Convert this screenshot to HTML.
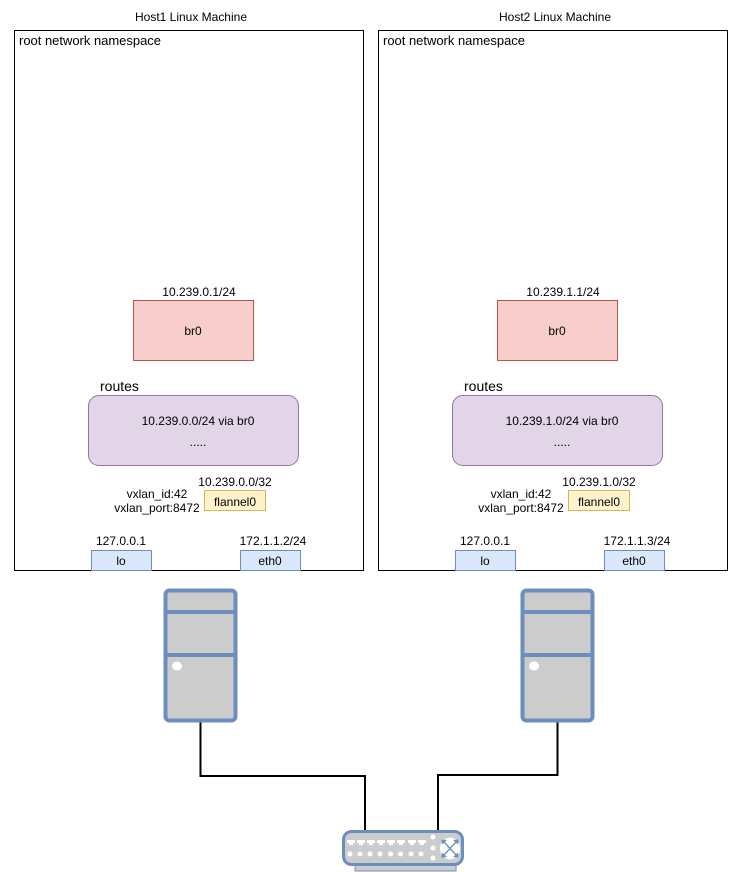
<!DOCTYPE html>
<html><head><meta charset="utf-8"><style>html,body{margin:0;padding:0;background:#fff}svg{display:block}text{font-family:"Liberation Sans",sans-serif;fill:#000}</style></head>
<body>
<svg width="729" height="872" viewBox="0 0 729 872" xmlns="http://www.w3.org/2000/svg">
<defs>
<g id="server">
<rect x="165.500" y="590.500" width="70" height="130" rx="4" fill="#ccc" stroke="#6c8ebf" stroke-width="4"/>
<path d="M165 612H236M165 655H236" stroke="#6c8ebf" stroke-width="4" fill="none"/>
<ellipse cx="177" cy="666" rx="5" ry="4.500" fill="#fff"/>
</g>
</defs>
<g id="h1">
<text x="191" y="21" font-size="12" text-anchor="middle" textLength="112">Host1 Linux Machine</text>
<rect x="14.500" y="30.500" width="349" height="540" fill="#fff" stroke="#000"/>
<text x="19" y="45" font-size="13" textLength="142">root network namespace</text>
<text x="199" y="296" font-size="12" text-anchor="middle">10.239.0.1/24</text>
<rect x="133.500" y="300.500" width="120" height="60" fill="#f8cecc" stroke="#b85450"/>
<text x="193" y="335" font-size="12" text-anchor="middle">br0</text>
<text x="100" y="391" font-size="14">routes</text>
<rect x="88.500" y="395.500" width="210" height="70" rx="10.500" fill="#e1d5e7" stroke="#9673a6"/>
<text x="198" y="425" font-size="12" text-anchor="middle">10.239.0.0/24 via br0</text>
<text x="198" y="446" font-size="12" text-anchor="middle">.....</text>
<text x="235" y="486" font-size="12" text-anchor="middle">10.239.0.0/32</text>
<text x="157" y="498" font-size="12" text-anchor="middle">vxlan_id:42</text>
<text x="157" y="512" font-size="12" text-anchor="middle">vxlan_port:8472</text>
<rect x="204.500" y="490.500" width="61" height="20" fill="#fff2cc" stroke="#d6b656"/>
<text x="235" y="506" font-size="12" text-anchor="middle">flannel0</text>
<text x="121" y="545" font-size="12" text-anchor="middle">127.0.0.1</text>
<rect x="91.500" y="550.500" width="60" height="20" fill="#dae8fc" stroke="#6c8ebf"/>
<text x="121" y="565" font-size="12" text-anchor="middle">lo</text>
<text x="273" y="545" font-size="12" text-anchor="middle">172.1.1.2/24</text>
<rect x="240.500" y="550.500" width="60" height="20" fill="#dae8fc" stroke="#6c8ebf"/>
<text x="270" y="565" font-size="12" text-anchor="middle">eth0</text>
</g>
<g transform="translate(364 0)">
<text x="191" y="21" font-size="12" text-anchor="middle" textLength="112">Host2 Linux Machine</text>
<rect x="14.500" y="30.500" width="349" height="540" fill="#fff" stroke="#000"/>
<text x="19" y="45" font-size="13" textLength="142">root network namespace</text>
<text x="199" y="296" font-size="12" text-anchor="middle">10.239.1.1/24</text>
<rect x="133.500" y="300.500" width="120" height="60" fill="#f8cecc" stroke="#b85450"/>
<text x="193" y="335" font-size="12" text-anchor="middle">br0</text>
<text x="100" y="391" font-size="14">routes</text>
<rect x="88.500" y="395.500" width="210" height="70" rx="10.500" fill="#e1d5e7" stroke="#9673a6"/>
<text x="198" y="425" font-size="12" text-anchor="middle">10.239.1.0/24 via br0</text>
<text x="198" y="446" font-size="12" text-anchor="middle">.....</text>
<text x="235" y="486" font-size="12" text-anchor="middle">10.239.1.0/32</text>
<text x="157" y="498" font-size="12" text-anchor="middle">vxlan_id:42</text>
<text x="157" y="512" font-size="12" text-anchor="middle">vxlan_port:8472</text>
<rect x="204.500" y="490.500" width="61" height="20" fill="#fff2cc" stroke="#d6b656"/>
<text x="235" y="506" font-size="12" text-anchor="middle">flannel0</text>
<text x="121" y="545" font-size="12" text-anchor="middle">127.0.0.1</text>
<rect x="91.500" y="550.500" width="60" height="20" fill="#dae8fc" stroke="#6c8ebf"/>
<text x="121" y="565" font-size="12" text-anchor="middle">lo</text>
<text x="273" y="545" font-size="12" text-anchor="middle">172.1.1.3/24</text>
<rect x="240.500" y="550.500" width="60" height="20" fill="#dae8fc" stroke="#6c8ebf"/>
<text x="270" y="565" font-size="12" text-anchor="middle">eth0</text>
</g>
<path d="M200.500 721V776H365V830M557.500 721V775H438V830" fill="none" stroke="#000" stroke-width="2"/>
<use href="#server"/>
<use href="#server" x="357"/>
<rect x="355" y="865" width="101" height="6" fill="#ccc" stroke="#6c8ebf" stroke-width="1"/>
<rect x="343.500" y="831.500" width="119" height="33" rx="8" fill="#ccc" stroke="#6c8ebf" stroke-width="3"/>
<g fill="#fff">
<path d="M347 840h8v3h-2v2h-4v-2h-2zM357 840h8v3h-2v2h-4v-2h-2zM367 840h8v3h-2v2h-4v-2h-2zM377 840h8v3h-2v2h-4v-2h-2zM387 840h8v3h-2v2h-4v-2h-2zM397 840h8v3h-2v2h-4v-2h-2zM408 840h8v3h-2v2h-4v-2h-2zM418 840h8v3h-2v2h-4v-2h-2z"/>
<circle cx="350" cy="854" r="2.500"/><circle cx="360" cy="854" r="2.500"/><circle cx="370" cy="854" r="2.500"/><circle cx="380" cy="854" r="2.500"/><circle cx="390.500" cy="854" r="2.500"/><circle cx="400.500" cy="854" r="2.500"/><circle cx="411" cy="854" r="2.500"/><circle cx="421" cy="854" r="2.500"/>
<circle cx="433" cy="837" r="2.500"/><circle cx="433" cy="848" r="2.500"/><circle cx="433" cy="858" r="2.500"/>
<ellipse cx="450" cy="848.500" rx="10" ry="11"/>
</g>
<path d="M444 842L456 855M456 842L444 855" stroke="#6c8ebf" stroke-width="1.300" fill="none"/>
<path d="M441.500 839.500l5.500 0.500-5 4.500zM458.500 839.500l-5.500 0.500 5 4.500zM441.500 857.500l5.500-0.500-5-4.500zM458.500 857.500l-5.500-0.500 5-4.500z" fill="#6c8ebf"/>
</svg>
</body></html>
